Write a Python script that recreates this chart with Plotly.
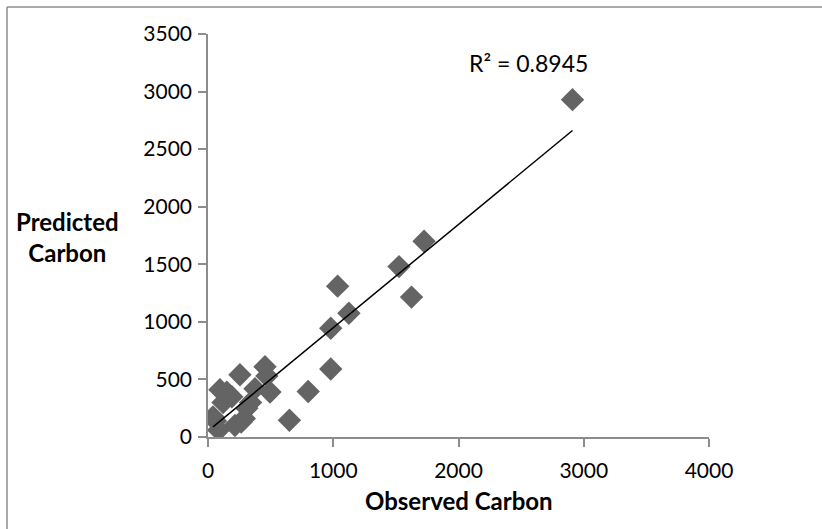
import plotly.graph_objects as go

# Data
observed = [40, 60, 85, 95, 120, 150, 190, 215, 255, 265, 290, 310, 340, 375,
            455, 470, 495, 650, 800, 980, 980, 1035, 1125, 1525, 1625, 1725, 2910]
predicted = [175, 140, 60, 410, 300, 390, 350, 100, 540, 130, 160, 250, 300, 420,
             610, 530, 390, 145, 395, 590, 945, 1310, 1075, 1480, 1215, 1700, 2930]

trend_slope = 0.897
trend_intercept = 52
r_squared_label = "R² = 0.8945"

x_ticks = [0, 1000, 2000, 3000, 4000]
y_ticks = [0, 500, 1000, 1500, 2000, 2500, 3000, 3500]

FONT = "Lato, Calibri, Carlito, sans-serif"
AXIS_GRAY = "#8c8c8c"

trend_x = [min(observed), max(observed)]
trend_y = [trend_slope * v + trend_intercept for v in trend_x]

fig = go.Figure()
fig.add_trace(go.Scatter(
    x=observed, y=predicted, mode="markers",
    marker=dict(symbol="diamond", size=18, color="#646464", line=dict(width=0)),
    showlegend=False, hoverinfo="x+y"))
fig.add_trace(go.Scatter(
    x=trend_x, y=trend_y, mode="lines",
    line=dict(color="black", width=1.5), showlegend=False, hoverinfo="skip"))

W, H = 822, 529
L, R, T, B = 208, 113, 34, 92
pw, ph = W - L - R, H - T - B

def px_to_paper(px, py):
    return (px - L) / pw, (H - B - py) / ph

fig.update_layout(
    width=W, height=H,
    margin=dict(l=L, r=R, t=T, b=B, pad=0),
    paper_bgcolor="white", plot_bgcolor="white",
    font=dict(family=FONT, size=21, color="black"),
    xaxis=dict(range=[0, 4000], tickvals=x_ticks, showgrid=False, zeroline=False,
               showline=True, linecolor=AXIS_GRAY, linewidth=1.5,
               ticks="outside", ticklen=8, tickcolor=AXIS_GRAY, tickwidth=1.5,
               ticklabelstandoff=6,
               tickfont=dict(family=FONT, size=21, color="black")),
    yaxis=dict(range=[0, 3500], tickvals=y_ticks, showgrid=False, zeroline=False,
               showline=True, linecolor=AXIS_GRAY, linewidth=1.5,
               ticks="outside", ticklen=8, tickcolor=AXIS_GRAY, tickwidth=1.5,
               ticklabelstandoff=2,
               tickfont=dict(family=FONT, size=21, color="black")),
)

ax, ay = px_to_paper(67, 237)
fig.add_annotation(x=ax, y=ay, xref="paper", yref="paper", xanchor="center", yanchor="middle",
                   text="<b>Predicted<br>Carbon</b>", showarrow=False,
                   font=dict(family=FONT, size=24, color="black"), align="center")
bx, by = px_to_paper(459, 500)
fig.add_annotation(x=bx, y=by, xref="paper", yref="paper", xanchor="center", yanchor="middle",
                   text="<b>Observed Carbon</b>", showarrow=False,
                   font=dict(family=FONT, size=24, color="black"))
cx, cy = px_to_paper(528, 63)
fig.add_annotation(x=cx, y=cy, xref="paper", yref="paper", xanchor="center", yanchor="middle",
                   text=r_squared_label, showarrow=False,
                   font=dict(family=FONT, size=23, color="black"))

# outer chart border (left and top visible)
lx, ty = px_to_paper(7, 7)
_, by2 = px_to_paper(7, 540)
rx, _ = px_to_paper(840, 7)
fig.add_shape(type="line", xref="paper", yref="paper", x0=lx, x1=lx, y0=by2, y1=ty,
              line=dict(color="#8c8c8c", width=1.5))
fig.add_shape(type="line", xref="paper", yref="paper", x0=lx, x1=rx, y0=ty, y1=ty,
              line=dict(color="#8c8c8c", width=1.5))

fig.write_html("out.html")
